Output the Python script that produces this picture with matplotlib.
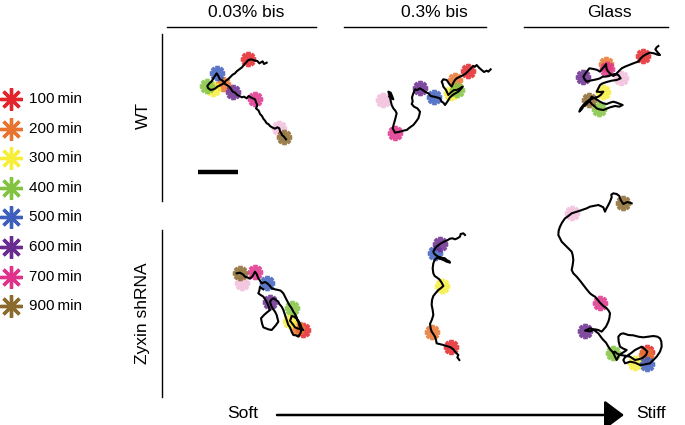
import matplotlib
matplotlib.use("Agg")
import matplotlib.pyplot as plt

plt.rcParams['font.family'] = ['Liberation Sans', 'DejaVu Sans']

# ---------------- data ----------------
legend_times = [100, 200, 300, 400, 500, 600, 700, 900]
legend_labels = [f"{t}\u2009min" for t in legend_times]
time_colors = {100: '#e3262b', 200: '#e8742f', 300: '#f7ee3c', 400: '#84c341',
               500: '#3e5fbe', 600: '#6a2c90', 700: '#e0328b', 800: '#f1bddb',
               900: '#8b6a2e'}

col_titles = ['0.03% bis', '0.3% bis', 'Glass']
row_titles = ['WT', 'Zyxin shRNA']

# WT, 0.03% bis
wt_soft_x = [260, 252, 248, 238, 232, 225, 214, 205, 198, 192, 186, 178, 170, 165, 158, 150, 144,
             138, 128, 120, 112, 105, 100, 92, 84, 82, 88, 95, 102, 110, 115, 120, 128, 135, 142,
             150, 158, 165, 172, 178, 186, 192, 200, 206, 212, 225, 228, 232, 228, 236, 240, 246,
             250, 255, 260, 265, 270, 276, 285, 292, 298, 300, 304, 306, 312, 318]
wt_soft_y = [68, 72, 64, 70, 63, 62, 58, 60, 68, 74, 82, 88, 94, 100, 104, 112, 118, 122, 132,
             136, 140, 146, 148, 150, 144, 138, 130, 124, 112, 100, 108, 118, 122, 132, 136, 142,
             155, 158, 165, 168, 172, 170, 175, 168, 172, 178, 186, 196, 205, 212, 222, 228, 236,
             242, 250, 252, 258, 262, 266, 262, 265, 274, 280, 285, 290, 298]
wt_soft_t = [100, 200, 300, 400, 500, 600, 700, 800, 900]
wt_soft_mx = [205, 128, 100, 82, 110, 158, 225, 298, 312]
wt_soft_my = [58, 132, 148, 138, 100, 155, 178, 265, 290]

# WT, 0.3% bis
wt_mid_x = [392, 385, 380, 372, 365, 358, 350, 345, 340, 332, 325, 318, 310, 300, 290, 285, 280,
            275, 268, 260, 250, 245, 248, 250, 258, 265, 272, 282, 290, 300, 308, 300, 295, 286,
            278, 270, 262, 255, 250, 245, 240, 230, 222, 212, 205, 195, 188, 180, 172, 165, 160,
            156, 158, 155, 162, 172, 180, 178, 175, 168, 160, 150, 140, 130, 120, 105, 98, 102,
            105, 110, 106, 100, 95, 92, 90, 85, 92, 95, 100, 92, 88]
wt_mid_y = [88, 95, 92, 96, 90, 84, 75, 80, 78, 86, 93, 100, 105, 110, 115, 120, 128, 140, 132,
            120, 118, 125, 132, 140, 150, 165, 158, 150, 150, 145, 140, 150, 155, 160, 165, 172,
            185, 195, 188, 185, 175, 172, 170, 168, 160, 155, 150, 145, 150, 148, 160, 172, 185,
            192, 200, 205, 215, 225, 235, 245, 255, 262, 270, 272, 275, 278, 265, 250, 240, 220,
            212, 205, 195, 182, 170, 155, 158, 165, 178, 172, 170]
wt_mid_t = [100, 200, 300, 400, 500, 600, 700, 800]
wt_mid_mx = [325, 285, 272, 290, 222, 180, 105, 68]
wt_mid_my = [93, 120, 158, 150, 170, 145, 278, 180]

# WT, Glass
wt_glass_x = [325, 320, 316, 322, 330, 322, 312, 300, 290, 280, 272, 265, 255, 245, 235, 225,
              215, 205, 198, 190, 182, 175, 170, 168, 164, 158, 150, 142, 135, 125, 118, 110, 100,
              104, 110, 120, 130, 140, 150, 158, 165, 175, 185, 195, 205, 212, 200, 185, 170, 158,
              150, 145, 140, 150, 160, 152, 145, 138, 130, 118, 110, 100, 92, 88, 95, 100, 110,
              120, 125, 135, 150, 160, 170, 180, 190, 200, 210, 218, 208, 195, 180, 170, 160, 148,
              140, 135, 125, 120]
wt_glass_y = [48, 52, 58, 66, 75, 74, 70, 68, 72, 78, 85, 95, 98, 102, 106, 110, 115, 125, 132,
              138, 132, 125, 118, 102, 108, 115, 125, 120, 118, 116, 115, 125, 140, 148, 155, 152,
              150, 148, 145, 140, 140, 138, 135, 132, 135, 145, 150, 152, 156, 160, 165, 175, 185,
              186, 185, 195, 200, 202, 205, 210, 215, 225, 235, 245, 238, 230, 222, 210, 200, 205,
              215, 220, 222, 218, 215, 218, 222, 225, 230, 228, 232, 236, 240, 238, 235, 230, 222,
              215]
wt_glass_t = [100, 200, 300, 400, 600, 700, 800, 900]
wt_glass_mx = [280, 168, 160, 148, 100, 170, 212, 118]
wt_glass_my = [78, 102, 185, 238, 140, 118, 145, 210]

# Zyxin shRNA, 0.03% bis
zyx_soft_x = [140, 150, 160, 165, 172, 180, 188, 195, 200, 205, 210, 215, 225, 232, 240, 245, 255,
              265, 272, 280, 285, 290, 298, 305, 310, 315, 320, 322, 326, 330, 340, 332, 322, 315,
              310, 300, 303, 305, 312, 318, 325, 330, 335, 332, 325, 318, 310, 305, 300, 295, 290,
              285, 280, 275, 268, 265, 258, 250, 245, 240, 242, 245, 250, 255, 260, 265, 258, 252,
              245, 235, 225, 220, 216, 213, 222, 230, 240, 236, 232, 228, 220, 212, 205, 208, 210,
              215, 220]
zyx_soft_y = [100, 98, 104, 110, 112, 116, 108, 95, 102, 115, 122, 130, 126, 130, 138, 145, 148,
              150, 152, 160, 170, 180, 195, 205, 215, 222, 232, 240, 250, 262, 270, 268, 265, 262,
              255, 242, 235, 228, 230, 235, 242, 250, 265, 278, 290, 286, 285, 275, 262, 255, 240,
              225, 210, 200, 192, 185, 180, 175, 178, 185, 192, 200, 208, 215, 225, 245, 255, 262,
              270, 268, 264, 262, 250, 235, 225, 218, 210, 200, 190, 182, 170, 165, 160, 152, 140,
              145, 148]
zyx_soft_t = [100, 200, 300, 400, 500, 600, 700, 800, 900]
zyx_soft_mx = [340, 322, 300, 305, 232, 240, 195, 155, 150]
zyx_soft_my = [270, 265, 242, 205, 130, 185, 95, 128, 98]

# Zyxin shRNA, 0.3% bis
zyx_mid_x = [195, 190, 182, 180, 172, 165, 158, 150, 140, 130, 120, 112, 105, 100, 102, 108, 115,
             125, 135, 140, 148, 150, 140, 130, 120, 110, 104, 100, 98, 100, 104, 110, 118, 125,
             130, 122, 115, 108, 100, 96, 95, 98, 100, 96, 90, 92, 95, 100, 105, 108, 110, 118,
             130, 140, 152, 160, 165, 170, 175, 172, 178]
zyx_mid_y = [45, 40, 42, 50, 55, 58, 55, 56, 62, 66, 72, 78, 85, 95, 100, 106, 110, 113, 115, 120,
             124, 128, 125, 120, 116, 114, 120, 130, 145, 160, 168, 172, 178, 188, 198, 205, 210,
             218, 228, 240, 255, 270, 285, 298, 312, 325, 335, 342, 350, 360, 370, 372, 375, 378,
             382, 388, 395, 400, 405, 412, 420]
zyx_mid_t = [100, 200, 300, 500, 600]
zyx_mid_mx = [152, 95, 125, 105, 120]
zyx_mid_my = [382, 335, 198, 100, 72]

# Zyxin shRNA, Glass
zyx_glass_x = [275, 262, 250, 242, 238, 230, 220, 214, 215, 210, 205, 198, 195, 190, 182, 175,
               160, 150, 140, 120, 95, 85, 75, 66, 60, 56, 55, 60, 65, 72, 80, 88, 95, 98, 100,
               98, 95, 100, 110, 120, 130, 140, 150, 158, 165, 172, 180, 190, 200, 206, 210, 208,
               205, 198, 185, 175, 165, 150, 135, 150, 160, 168, 175, 182, 190, 198, 205, 212, 220,
               225, 230, 236, 245, 255, 260, 250, 240, 236, 235, 242, 250, 265, 280, 295, 310, 325,
               340, 352, 360, 364, 365, 360, 350, 340, 330, 320, 310, 300, 285, 270, 262, 255, 250,
               255, 265, 275, 285, 295, 305, 315, 322, 318, 310, 305, 295, 285, 270, 255, 240, 230,
               225, 220]
zyx_glass_y = [40, 36, 42, 30, 18, 12, 10, 14, 22, 35, 45, 58, 65, 52, 48, 45, 48, 50, 55, 62,
               70, 78, 85, 98, 110, 122, 135, 145, 155, 162, 170, 178, 185, 195, 210, 225, 240,
               250, 260, 272, 285, 298, 310, 316, 320, 328, 338, 348, 355, 362, 370, 385, 395, 410,
               425, 420, 418, 424, 422, 415, 418, 425, 430, 440, 450, 458, 470, 480, 488, 500, 510,
               498, 490, 484, 480, 476, 470, 455, 440, 432, 430, 435, 436, 440, 442, 440, 438, 440,
               445, 455, 470, 485, 500, 510, 520, 522, 524, 525, 518, 515, 518, 520, 510, 502, 495,
               488, 480, 475, 470, 478, 485, 495, 502, 505, 508, 510, 500, 497, 495, 490, 485, 488]
zyx_glass_t = [100, 200, 300, 400, 500, 600, 700, 800, 900]
zyx_glass_mx = [322, 318, 285, 220, 320, 135, 180, 95, 250]
zyx_glass_my = [485, 495, 518, 488, 522, 422, 338, 70, 40]

panels = [
    (wt_soft_x, wt_soft_y, wt_soft_t, wt_soft_mx, wt_soft_my),
    (wt_mid_x, wt_mid_y, wt_mid_t, wt_mid_mx, wt_mid_my),
    (wt_glass_x, wt_glass_y, wt_glass_t, wt_glass_mx, wt_glass_my),
    (zyx_soft_x, zyx_soft_y, zyx_soft_t, zyx_soft_mx, zyx_soft_my),
    (zyx_mid_x, zyx_mid_y, zyx_mid_t, zyx_mid_mx, zyx_mid_my),
    (zyx_glass_x, zyx_glass_y, zyx_glass_t, zyx_glass_mx, zyx_glass_my),
]

# ---------------- layout ----------------
W, H = 685, 425
fig = plt.figure(figsize=(W / 100, H / 100), dpi=100)
ov = fig.add_axes([0, 0, 1, 1])
ov.set_xlim(0, W)
ov.set_ylim(H, 0)
ov.axis('off')

STAR = (8, 2, 0)

# legend
leg_y0, leg_dy = 99, 29.6
for i, (t, lab) in enumerate(zip(legend_times, legend_labels)):
    y = leg_y0 + i * leg_dy
    ov.plot([11], [y], linestyle='none', marker=STAR, markersize=16, mew=2.4,
            color=time_colors[t])
    ov.text(29, y, lab, fontsize=11, va='center', ha='left')

# column headers and lines
title_cx = [246, 434, 609]
line_spans = [(167, 316), (344, 486), (524, 668)]
for title, cx, (x0, x1) in zip(col_titles, title_cx, line_spans):
    ov.text(cx, 12, title, fontsize=12.5, ha='center', va='center')
    ov.plot([x0, x1], [27, 27], color='black', lw=1.0)

# row labels and vertical lines
row_cy = [115, 313]
row_spans = [(34, 201), (230, 397)]
for title, cy, (y0, y1) in zip(row_titles, row_cy, row_spans):
    ov.text(143, cy, title, fontsize=12.5, rotation=90, ha='center', va='center')
    ov.plot([162, 162], [y0, y1], color='black', lw=1.0)

# scale bar
ov.plot([198, 238], [172, 172], color='black', lw=3.2, solid_capstyle='butt')

# arrow
ov.annotate('', xy=(624, 415), xytext=(277, 415),
            arrowprops=dict(arrowstyle='-|>,head_length=0.6,head_width=0.45',
                            mutation_scale=20, lw=1.8, color='black',
                            shrinkA=0, shrinkB=0))
ov.text(243, 414, 'Soft', fontsize=12.5, ha='center', va='center')
ov.text(651, 414, 'Stiff', fontsize=12.5, ha='center', va='center')

# trajectory panels (crop boxes in pixels: x, y, w, h)
boxes = [(180, 40, 140, 120), (360, 40, 160, 120), (550, 30, 135, 120),
         (190, 240, 140, 120), (400, 220, 110, 150), (540, 190, 145, 190)]
for (bx, by, bw, bh), (px, py, pt, mx, my) in zip(boxes, panels):
    ax = fig.add_axes([bx / W, 1 - (by + bh) / H, bw / W, bh / H])
    ax.set_xlim(0, bw * 3)
    ax.set_ylim(bh * 3, 0)
    ax.axis('off')
    ax.patch.set_alpha(0)
    for t, x, y in zip(pt, mx, my):
        ax.plot([x], [y], linestyle='none', marker=STAR, markersize=11, mew=2.8,
                color=time_colors[t], alpha=0.85)
    ax.plot(px, py, color='black', lw=1.5, solid_joinstyle='round')

fig.savefig('out.png', dpi=100)
